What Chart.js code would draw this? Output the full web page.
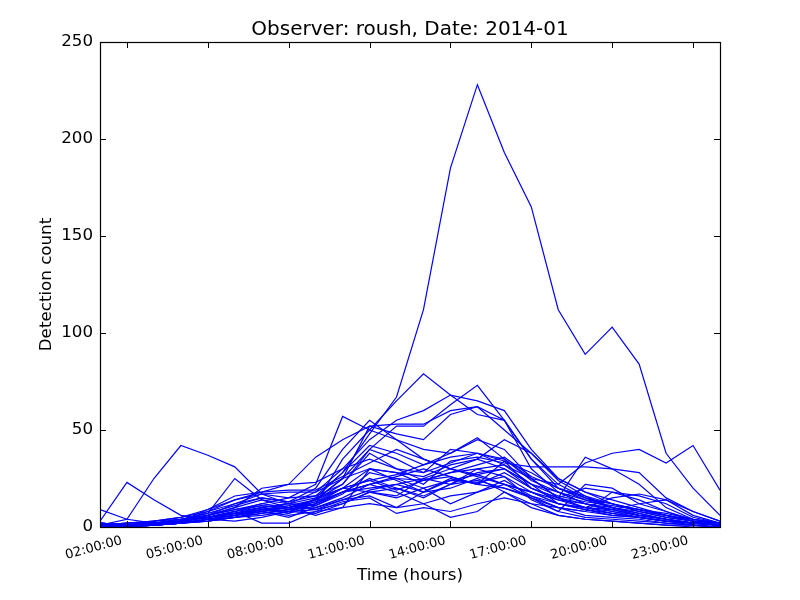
<!DOCTYPE html>
<html>
<head>
<meta charset="utf-8">
<script src="https://cdn.jsdelivr.net/npm/chart.js@4.4.1/dist/chart.umd.min.js"></script>
<style>
  html, body { margin: 0; padding: 0; background: #ffffff; }
  #wrap { width: 800px; height: 600px; }
</style>
</head>
<body>
<div id="wrap"><canvas id="c" width="800" height="600"></canvas></div>
<script>
// Hours of the day (01:00 ... 24:00)
const hours = [1,2,3,4,5,6,7,8,9,10,11,12,13,14,15,16,17,18,19,20,21,22,23,24];
const tickHours = [2,5,8,11,14,17,20,23];
const yTicks = [0,50,100,150,200,250];
const titleText = 'Observer: roush, Date: 2014-01';

// Detection counts per day (one line per day)
const day01 = [1,0,2,3,5,8,10,7,15,28,48,67,112,185,228,193,165,112,89,103,84,38,20,6];
const day02 = [1,4,25,42,37,31,17,12,9,14,19,22,18,24,27,22,15,10,8,6,5,3,2,1];
const day03 = [3,23,14,6,4,3,5,8,7,12,18,20,16,22,30,26,18,12,9,7,5,3,2,1];
const day04 = [0,1,1,2,4,6,9,8,12,35,50,65,79,68,58,55,35,22,15,12,8,5,3,1];
const day05 = [1,0,2,3,5,8,11,10,14,25,40,52,52,63,73,55,30,18,12,9,6,4,2,1];
const day06 = [2,1,2,4,6,9,12,15,22,57,50,45,40,38,45,40,25,15,12,9,6,4,2,1];
const day07 = [0,1,1,2,3,5,8,10,12,18,22,25,24,28,30,32,25,22,33,38,40,33,42,19];
const day08 = [1,0,1,3,5,7,10,12,15,20,30,28,26,32,35,30,20,15,36,30,28,15,8,3];
const day09 = [0,1,2,3,6,10,14,12,18,30,45,55,60,68,65,60,40,25,18,14,10,6,3,1];
const day10 = [1,2,3,5,8,12,15,13,20,40,55,45,35,30,35,45,38,25,18,12,9,6,3,2];
const day11 = [2,1,3,5,9,14,18,22,36,45,52,48,45,58,62,50,38,24,16,12,8,5,3,1];
const day12 = [9,4,2,2,4,7,10,8,12,18,25,20,15,22,24,20,15,8,5,4,3,2,1,0];
const day13 = [0,0,1,2,4,6,8,5,10,15,22,18,12,5,8,18,10,6,4,3,2,1,0,0];
const day14 = [1,2,3,4,7,25,14,10,14,20,18,16,25,22,28,30,22,12,9,6,5,3,2,1];
const day15 = [0,1,2,4,6,10,20,22,23,30,35,30,28,40,38,34,28,20,15,10,7,4,2,1];
const day16 = [1,0,1,3,5,8,2,2,8,10,12,10,12,16,18,22,18,14,12,10,8,6,4,2];
const day17 = [2,1,2,3,5,7,9,11,14,22,40,35,28,33,38,35,25,15,20,18,16,12,5,2];
const day18 = [0,1,1,2,4,5,7,9,10,14,16,10,18,25,22,28,20,15,10,8,6,4,2,1];
const day19 = [1,2,2,3,8,14,17,18,18,25,30,28,22,34,36,33,31,31,31,30,22,10,4,2];
const day20 = [0,0,1,2,3,5,6,8,9,12,18,15,20,12,18,24,16,10,8,18,14,8,3,1];
const day21 = [1,1,2,4,7,11,15,13,16,28,42,38,32,38,46,35,24,18,14,12,9,6,3,1];
const day22 = [0,1,1,2,4,6,9,7,11,18,20,22,25,30,26,22,18,12,10,15,17,14,6,2];
const day23 = [1,0,2,3,6,9,11,9,13,20,24,19,24,28,32,36,26,20,16,10,6,4,2,1];
const day24 = [0,1,1,3,5,7,10,12,11,17,28,25,20,24,23,26,14,8,22,20,12,8,4,1];
const day25 = [2,1,1,2,4,6,8,6,8,13,15,7,10,8,12,15,12,10,6,5,4,2,1,0];
const day26 = [0,1,2,3,9,16,18,19,19,26,33,40,35,30,27,30,22,16,13,11,9,7,4,2];
const day27 = [1,0,1,2,6,12,17,15,16,22,38,30,24,26,22,20,16,12,10,9,12,14,8,3];
const day28 = [0,1,1,2,3,5,7,9,12,20,24,27,32,36,38,32,22,18,12,8,5,3,1,0];
const day29 = [1,1,2,3,5,7,9,10,6,10,30,24,18,20,25,18,12,6,4,3,2,1,1,0];
const day30 = [0,0,1,2,4,6,8,10,13,18,22,26,30,26,22,34,20,14,10,7,5,3,2,1];
const day31 = [2,1,1,3,5,8,12,10,14,25,52,53,53,60,62,55,35,20,14,10,7,4,2,1];

const days = [day01,day02,day03,day04,day05,day06,day07,day08,day09,day10,
              day11,day12,day13,day14,day15,day16,day17,day18,day19,day20,
              day21,day22,day23,day24,day25,day26,day27,day28,day29,day30,day31];

const FONT = 'DejaVu Sans';
const pad2 = n => (n < 10 ? '0' : '') + n;

const datasets = days.map((vals, i) => ({
  label: 'Day ' + (i + 1),
  data: hours.map((h, k) => ({ x: h, y: vals[k] })),
  borderColor: '#0000ff',
  backgroundColor: '#0000ff',
  borderWidth: 1.2,
  pointRadius: 0,
  pointHoverRadius: 0,
  tension: 0,
  fill: false,
  clip: 0
}));

// title centred over the plot area + frame + inward tick marks on all four sides
const framePlugin = {
  id: 'frameTicks',
  afterDraw(chart) {
    const { ctx, chartArea: a, scales } = chart;
    const L = 6;
    ctx.save();
    ctx.fillStyle = '#000000';
    ctx.font = '20px "' + FONT + '"';
    ctx.textAlign = 'center';
    ctx.textBaseline = 'alphabetic';
    ctx.fillText(titleText, (a.left + a.right) / 2, 35);

    ctx.strokeStyle = '#000000';
    ctx.lineWidth = 1;
    ctx.beginPath();
    tickHours.forEach(h => {
      const px = Math.round(scales.x.getPixelForValue(h)) + 0.5;
      ctx.moveTo(px, a.bottom); ctx.lineTo(px, a.bottom - L);
      ctx.moveTo(px, a.top); ctx.lineTo(px, a.top + L);
    });
    yTicks.forEach(v => {
      const py = Math.round(scales.y.getPixelForValue(v)) + 0.5;
      ctx.moveTo(a.left, py); ctx.lineTo(a.left + L, py);
      ctx.moveTo(a.right, py); ctx.lineTo(a.right - L, py);
    });
    ctx.stroke();
    ctx.lineWidth = 1.2;
    ctx.strokeRect(Math.round(a.left) + 0.5, Math.round(a.top) + 0.5,
                   Math.round(a.right - a.left), Math.round(a.bottom - a.top));
    ctx.restore();
  }
};

new Chart(document.getElementById('c'), {
  type: 'line',
  data: { datasets },
  options: {
    responsive: false,
    animation: false,
    devicePixelRatio: 1,
    events: [],
    layout: { padding: { left: 0, right: 80, top: 42, bottom: 0 } },
    plugins: {
      legend: { display: false },
      tooltip: { enabled: false },
      title: { display: false }
    },
    scales: {
      x: {
        type: 'linear',
        min: 1,
        max: 24,
        afterFit: s => { s.height = 73; },
        afterBuildTicks: s => { s.ticks = tickHours.map(v => ({ value: v })); },
        grid: { display: false, drawTicks: false },
        border: { display: false },
        ticks: {
          autoSkip: false,
          minRotation: 15,
          maxRotation: 15,
          padding: 6,
          labelOffset: -5,
          color: '#000000',
          font: { family: FONT, size: 13 },
          callback: v => pad2(v) + ':00:00'
        },
        title: {
          display: true,
          text: 'Time (hours)',
          color: '#000000',
          font: { family: FONT, size: 16.7 },
          padding: { top: 4, bottom: 14 }
        }
      },
      y: {
        min: 0,
        max: 250,
        afterFit: s => { s.width = 100; },
        afterBuildTicks: s => { s.ticks = yTicks.map(v => ({ value: v })); },
        grid: { display: false, drawTicks: false },
        border: { display: false },
        ticks: {
          padding: 7,
          color: '#000000',
          font: { family: FONT, size: 16.7 }
        },
        title: {
          display: true,
          text: 'Detection count',
          color: '#000000',
          font: { family: FONT, size: 16.7 },
          padding: { top: 37, bottom: 4 }
        }
      }
    }
  },
  plugins: [framePlugin]
});
</script>
</body>
</html>
